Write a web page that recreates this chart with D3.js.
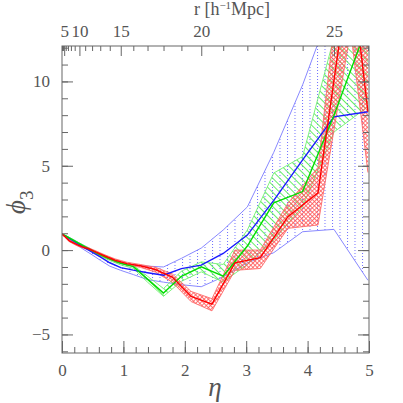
<!DOCTYPE html>
<html>
<head>
<meta charset="utf-8">
<script src="https://cdn.jsdelivr.net/npm/d3@7"></script>
<style>
  body { margin: 0; background: #fff; }
  text { font-family: "Liberation Serif", "DejaVu Serif", serif; fill: #555; }
</style>
</head>
<body>
<div id="chart"></div>
<script>
// sample radii (h^-1 Mpc) of the two grids, eta follows from the top axis
var rGrid = [1, 6, 8, 10, 11, 12, 13, 14, 15, 16, 17, 18, 19, 20, 21, 22, 23, 24, 25, 26];
var rHalf = [0.5, 5.5, 7.5, 9.5, 10.5, 11.5, 12.5, 13.5, 14.5, 15.5, 16.5, 17.5, 18.5, 19.5, 20.5, 21.5, 22.5, 23.5, 24.5, 25.5, 26];

var blueMid = [0.95, 0.82, 0.64, 0.33, 0.12, -0.12, -0.40, -0.75, -1.04, -1.19, -1.34, -1.49, -1.10, -0.89, -0.20, 0.89, 2.95, 5.35, 7.90, 8.20];
var blueHi  = [0.95, 0.86, 0.70, 0.42, 0.24, 0.02, -0.25, -0.55, -0.80, -0.90, -0.95, -1.00, -0.49, 0.12, 1.19, 2.56, 5.80, 9.80, 14.8, 17.0];
var blueLo  = [0.95, 0.78, 0.58, 0.20, -0.02, -0.28, -0.60, -0.95, -1.20, -1.45, -1.75, -1.90, -2.05, -2.17, -1.59, -0.75, -0.15, 1.09, 1.23, -1.79];

var greenMid = [0.95, 0.84, 0.67, 0.38, 0.19, -0.03, -0.28, -0.53, -0.78, -0.98, -1.72, -2.54, -1.55, -0.99, -1.55, 0.24, 2.80, 3.47, 8.0, 13.4];
var greenHi  = [0.95, 0.86, 0.70, 0.42, 0.24, 0.02, -0.22, -0.46, -0.70, -0.90, -1.55, -2.28, -1.25, -0.70, -0.85, 1.19, 4.57, 5.55, 12.6, 16.0];
var greenLo  = [0.95, 0.82, 0.63, 0.33, 0.13, -0.09, -0.35, -0.62, -0.88, -1.08, -1.90, -2.74, -1.85, -1.29, -1.89, -0.85, 0.60, 2.58, 7.0, 8.5];

var redMid = [0.95, 0.80, 0.55, 0.32, 0.20, 0.08, -0.12, -0.35, -0.60, -0.80, -0.93, -1.15, -1.60, -2.75, -3.20, -0.75, -0.45, 1.98, 3.40, 17, 8.2];
var redHi  = [0.95, 0.84, 0.60, 0.38, 0.26, 0.14, -0.05, -0.28, -0.52, -0.72, -0.85, -1.02, -1.40, -2.45, -2.88, 0.0, 0.0, 2.78, 4.9, 22, 13];
var redLo  = [0.95, 0.76, 0.50, 0.26, 0.14, 0.02, -0.19, -0.42, -0.68, -0.88, -1.02, -1.30, -1.90, -3.05, -3.60, -1.20, -1.09, 1.29, 1.49, 13, 4.6];

var rTicks = d3.range(1, 27);
var rLabels = [5, 10, 15, 20, 25];
var etaTicks = [0, 1, 2, 3, 4, 5];
var phiTicks = [-5, 0, 5, 10];

var width = 403, height = 403;
var margin = {top: 46, right: 34, bottom: 50, left: 62};
var graphWidth = width - margin.left - margin.right;
var graphHeight = height - margin.top - margin.bottom;

var svg = d3.select("#chart")
  .append("svg")
  .attr("width", width)
  .attr("height", height)
  .append("g")
  .attr("transform", "translate(" + margin.left + "," + margin.top + ")");

var x = d3.scaleLinear().domain([0, 5]).range([0, graphWidth]);
var xr = d3.scalePow().exponent(3).domain([0, 26.03]).range([0, graphWidth]);
var y = d3.scaleLinear().domain([-6.1, 12.1]).range([graphHeight, 0]);

var defs = svg.append("defs");
defs.append("clipPath").attr("id", "clip")
  .append("rect").attr("width", graphWidth).attr("height", graphHeight);

// blue: dotted vertical hatch
var pb = defs.append("pattern").attr("id", "hatchBlue")
  .attr("patternUnits", "userSpaceOnUse").attr("width", 7.5).attr("height", 3);
pb.append("rect").attr("x", 0).attr("y", 0).attr("width", 1).attr("height", 1).attr("fill", "#6f6fff");

// green: diagonal hatch
var pg = defs.append("pattern").attr("id", "hatchGreen")
  .attr("patternUnits", "userSpaceOnUse").attr("width", 5).attr("height", 5)
  .attr("patternTransform", "rotate(-45)");
pg.append("line").attr("x1", 0.5).attr("y1", 0).attr("x2", 0.5).attr("y2", 5)
  .attr("stroke", "#66ee66").attr("stroke-width", 1);

// red: dense cross hatch
var pr = defs.append("pattern").attr("id", "hatchRed")
  .attr("patternUnits", "userSpaceOnUse").attr("width", 3).attr("height", 3)
  .attr("patternTransform", "rotate(45)");
pr.append("line").attr("x1", 0.5).attr("y1", 0).attr("x2", 0.5).attr("y2", 3)
  .attr("stroke", "#ff5555").attr("stroke-width", 0.8);
pr.append("line").attr("x1", 0).attr("y1", 0.5).attr("x2", 3).attr("y2", 0.5)
  .attr("stroke", "#ff5555").attr("stroke-width", 0.8);

function rows(rs, lo, mid, hi) {
  return rs.map(function(r, i) { return {r: r, lo: lo[i], mid: mid[i], hi: hi[i]}; });
}

var series = [
  {name: "blue", data: rows(rGrid, blueLo, blueMid, blueHi), fill: "url(#hatchBlue)", edge: "#7b7bff", line: "#1a1aff"},
  {name: "green", data: rows(rGrid, greenLo, greenMid, greenHi), fill: "url(#hatchGreen)", edge: "#70f070", line: "#00dd00"},
  {name: "red", data: rows(rHalf, redLo, redMid, redHi), fill: "url(#hatchRed)", edge: "#ff6a6a", line: "#ff0000"}
];

var area = d3.area()
  .x(function(d) { return xr(d.r); })
  .y0(function(d) { return y(d.lo); })
  .y1(function(d) { return y(d.hi); });

function line(key) {
  return d3.line()
    .x(function(d) { return xr(d.r); })
    .y(function(d) { return y(d[key]); });
}

var plot = svg.append("g").attr("clip-path", "url(#clip)");

series.forEach(function(s) {
  var g = plot.append("g").attr("class", s.name);
  g.append("path").datum(s.data).attr("d", area).attr("fill", s.fill).attr("stroke", "none");
  ["lo", "hi"].forEach(function(k) {
    g.append("path").datum(s.data).attr("d", line(k))
      .attr("fill", "none").attr("stroke", s.edge).attr("stroke-width", 0.9);
  });
});
series.forEach(function(s) {
  plot.append("path").datum(s.data).attr("d", line("mid"))
    .attr("fill", "none").attr("stroke", s.line).attr("stroke-width", 1.4);
});

// axes, ticks pointing inwards
var frame = "#666";

function styleAxis(g) {
  g.select(".domain").remove();
  g.selectAll(".tick line").attr("stroke", frame);
  g.selectAll(".tick text").attr("fill", "#555").style("font-size", "17px")
    .style("font-family", "Liberation Serif, DejaVu Serif, serif");
}

// bottom eta
svg.append("g").attr("transform", "translate(0," + graphHeight + ")")
  .call(d3.axisBottom(x).tickValues(d3.range(0, 5.01, 0.2)).tickSize(-6).tickFormat(""))
  .call(styleAxis);
svg.append("g").attr("transform", "translate(0," + graphHeight + ")")
  .call(d3.axisBottom(x).tickValues(etaTicks).tickSize(-12).tickPadding(11).tickFormat(d3.format("d")))
  .call(styleAxis);

// left phi
svg.append("g")
  .call(d3.axisLeft(y).tickValues(d3.range(-6, 13, 1)).tickSize(-6).tickFormat(""))
  .call(styleAxis);
svg.append("g")
  .call(d3.axisLeft(y).tickValues(phiTicks).tickSize(-11).tickPadding(12).tickFormat(function(d) { return d < 0 ? "\u2212" + Math.abs(d) : d; }))
  .call(styleAxis);

// right phi
svg.append("g").attr("transform", "translate(" + graphWidth + ",0)")
  .call(d3.axisRight(y).tickValues(d3.range(-6, 13, 1)).tickSize(-6).tickFormat(""))
  .call(styleAxis);
svg.append("g").attr("transform", "translate(" + graphWidth + ",0)")
  .call(d3.axisRight(y).tickValues(phiTicks).tickSize(-11).tickFormat(""))
  .call(styleAxis);

// top r
svg.append("g")
  .call(d3.axisTop(xr).tickValues(rTicks.filter(function(r) { return rLabels.indexOf(r) < 0; })).tickSize(-5).tickFormat(""))
  .call(styleAxis);
svg.append("g")
  .call(d3.axisTop(xr).tickValues(rLabels).tickSize(-10).tickPadding(9).tickFormat(d3.format("d")))
  .call(styleAxis);

svg.append("rect").attr("width", graphWidth).attr("height", graphHeight)
  .attr("fill", "none").attr("stroke", frame).attr("stroke-width", 1);

// axis titles
var rTitle = svg.append("text")
  .attr("x", 232 - margin.left).attr("y", 15 - margin.top)
  .style("text-anchor", "middle").style("font-size", "18px");
rTitle.append("tspan").text("r [h");
rTitle.append("tspan").attr("dy", -6).style("font-size", "11px").text("\u22121");
rTitle.append("tspan").attr("dy", 6).text("Mpc]");

svg.append("text")
  .attr("x", 215 - margin.left).attr("y", 396 - margin.top)
  .style("text-anchor", "middle").style("font-size", "27px").style("font-style", "italic")
  .text("\u03b7");

var ylab = svg.append("text")
  .attr("transform", "translate(" + (25 - margin.left) + "," + (214 - margin.top) + ")rotate(-90)")
  .style("font-size", "27px").style("font-style", "italic");
ylab.append("tspan").text("\u03d5");
ylab.append("tspan").attr("dy", 8).style("font-size", "19px").style("font-style", "normal").text("3");
</script>
</body>
</html>
